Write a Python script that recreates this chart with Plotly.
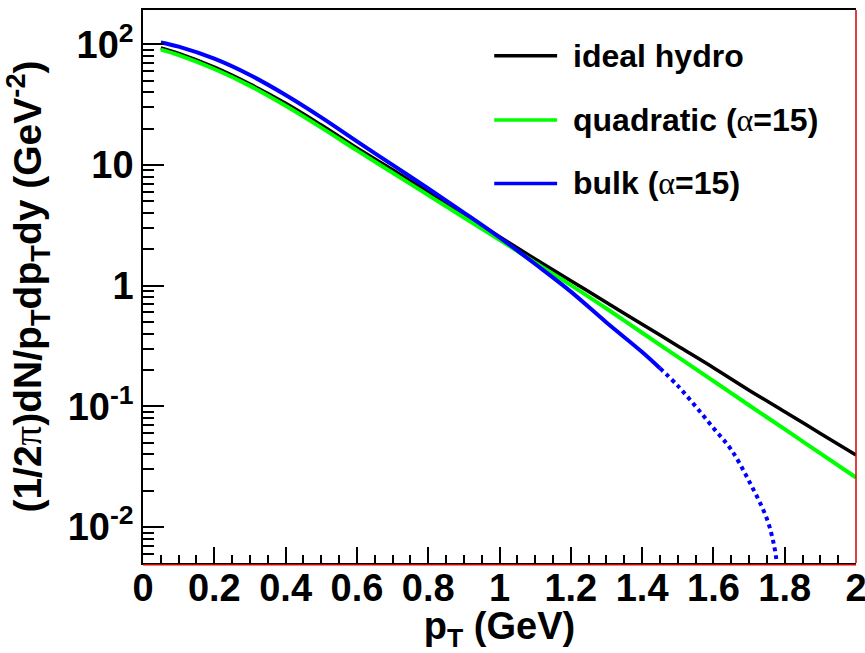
import plotly.graph_objects as go

# ---- data ----
pt_main = [0.05, 0.1, 0.2, 0.3, 0.4, 0.5, 0.6, 0.7, 0.8, 0.9, 1.0,
           1.1, 1.2, 1.3, 1.4, 1.5, 1.6, 1.7, 1.8, 1.9, 2.0]
ideal_hydro = [93.3, 84.1, 64.6, 46.8, 32.4, 21.4, 13.8, 9.12, 5.96, 3.89, 2.54,
               1.66, 1.10, 0.724, 0.479, 0.316, 0.209, 0.136, 0.0902, 0.0596, 0.0394]
quadratic = [90.2, 81.3, 62.4, 45.2, 30.9, 20.4, 13.2, 8.61, 5.62, 3.67, 2.40,
             1.55, 1.01, 0.646, 0.407, 0.257, 0.162, 0.102, 0.0646, 0.0407, 0.0257]
pt_bulk = [0.05, 0.1, 0.2, 0.3, 0.4, 0.5, 0.6, 0.7, 0.8, 0.9, 1.0,
           1.1, 1.2, 1.3, 1.4, 1.45]
bulk = [103.5, 95.5, 75.9, 55.6, 38.0, 24.8, 15.7, 10.0, 6.38, 4.03, 2.51,
        1.51, 0.891, 0.495, 0.282, 0.207]
pt_bulk_dot = [1.45, 1.5, 1.55, 1.6, 1.65, 1.7, 1.75, 1.77, 1.778]
bulk_dot = [0.207, 0.148, 0.100, 0.0661, 0.0437, 0.0240, 0.0117, 0.00708, 0.00501]

x_ticks = [0, 0.2, 0.4, 0.6, 0.8, 1.0, 1.2, 1.4, 1.6, 1.8, 2.0]
x_ticktext = ["0", "0.2", "0.4", "0.6", "0.8", "1", "1.2", "1.4", "1.6", "1.8", "2"]
y_ticks = [0.01, 0.1, 1, 10, 100]
y_ticktext = ["10<sup>-2</sup>", "10<sup>-1</sup>", "1", "10", "10<sup>2</sup>"]

ALPHA = "<span style='font-family:Liberation Serif;font-weight:normal'>α</span>"
legend_names = ["ideal hydro", "quadratic (" + ALPHA + "=15)", "bulk (" + ALPHA + "=15)"]
colors = ["#000000", "#00ff00", "#0000ff"]

FONT = "Liberation Sans"

fig = go.Figure()
fig.add_trace(go.Scatter(x=pt_main, y=ideal_hydro, mode="lines", name="ideal hydro",
                         line=dict(color=colors[0], width=3.5, shape="spline"), showlegend=False))
fig.add_trace(go.Scatter(x=pt_main, y=quadratic, mode="lines", name="quadratic (α=15)",
                         line=dict(color=colors[1], width=4, shape="spline"), showlegend=False))
fig.add_trace(go.Scatter(x=pt_bulk, y=bulk, mode="lines", name="bulk (α=15)",
                         line=dict(color=colors[2], width=4, shape="spline"), showlegend=False))
fig.add_trace(go.Scatter(x=pt_bulk_dot, y=bulk_dot, mode="lines", name="bulk (α=15) extrapolated",
                         line=dict(color=colors[2], width=4, dash="dot", shape="spline"), showlegend=False))

# manual legend (paper coordinates)
leg_y = [0.9174, 0.8013, 0.6864]
for name, c, yy in zip(legend_names, colors, leg_y):
    fig.add_shape(type="line", xref="paper", yref="paper", x0=0.4926, x1=0.5808, y0=yy, y1=yy,
                  line=dict(color=c, width=3.5))
    fig.add_annotation(xref="paper", yref="paper", x=0.600, y=yy, xanchor="left", yanchor="middle",
                       text=name, showarrow=False,
                       font=dict(family=FONT, size=32, color="black", weight="bold"))

# red frame parts (right and bottom)
fig.add_shape(type="line", xref="paper", yref="paper", x0=1, x1=1, y0=0, y1=1,
              line=dict(color="#d00000", width=1.5))
fig.add_shape(type="line", xref="paper", yref="paper", x0=0, x1=1, y0=-0.003, y1=-0.003,
              line=dict(color="#d00000", width=1.5))

minor_y = [m * 10 ** e for e in range(-3, 3) for m in range(2, 10)]
minor_y = [v for v in minor_y if 0.005 <= v <= 200]

fig.update_layout(
    width=865, height=653,
    margin=dict(l=143, r=9, t=10, b=90, autoexpand=False),
    paper_bgcolor="white", plot_bgcolor="white",
    font=dict(family=FONT, color="black"),
    xaxis=dict(
        range=[0, 2], showgrid=False, zeroline=False, automargin=False,
        showline=True, linecolor="black", linewidth=1.5, mirror=True,
        ticks="inside", ticklen=16, tickwidth=1.5, tickcolor="black",
        tickvals=x_ticks, ticktext=x_ticktext, ticklabeloverflow="allow",
        ticklabelstandoff=-9,
        tickfont=dict(family=FONT, size=38, weight="bold"),
        minor=dict(dtick=0.05, ticks="inside", ticklen=8, tickwidth=1.5, tickcolor="black", showgrid=False),
        title=dict(text="p<sub>T</sub> (GeV)", font=dict(family=FONT, size=38, weight="bold"), standoff=10),
    ),
    yaxis=dict(
        type="log", range=[-2.2985, 2.284], showgrid=False, zeroline=False, automargin=False,
        showline=True, linecolor="black", linewidth=1.5,
        ticks="inside", ticklen=21, tickwidth=1.5, tickcolor="black",
        tickvals=y_ticks, ticktext=y_ticktext,
        tickfont=dict(family=FONT, size=38, weight="bold"),
        minor=dict(tickvals=minor_y, ticks="inside", ticklen=11, tickwidth=1.5, tickcolor="black", showgrid=False),
        title=dict(text="(1/2<span style='font-family:Liberation Serif;font-weight:normal'>π</span>)dN/p<sub>T</sub>dp<sub>T</sub>dy (GeV<sup>-2</sup>)",
                   font=dict(family=FONT, size=39, weight="bold"), standoff=14),
    ),
)

fig.write_html("out.html")
